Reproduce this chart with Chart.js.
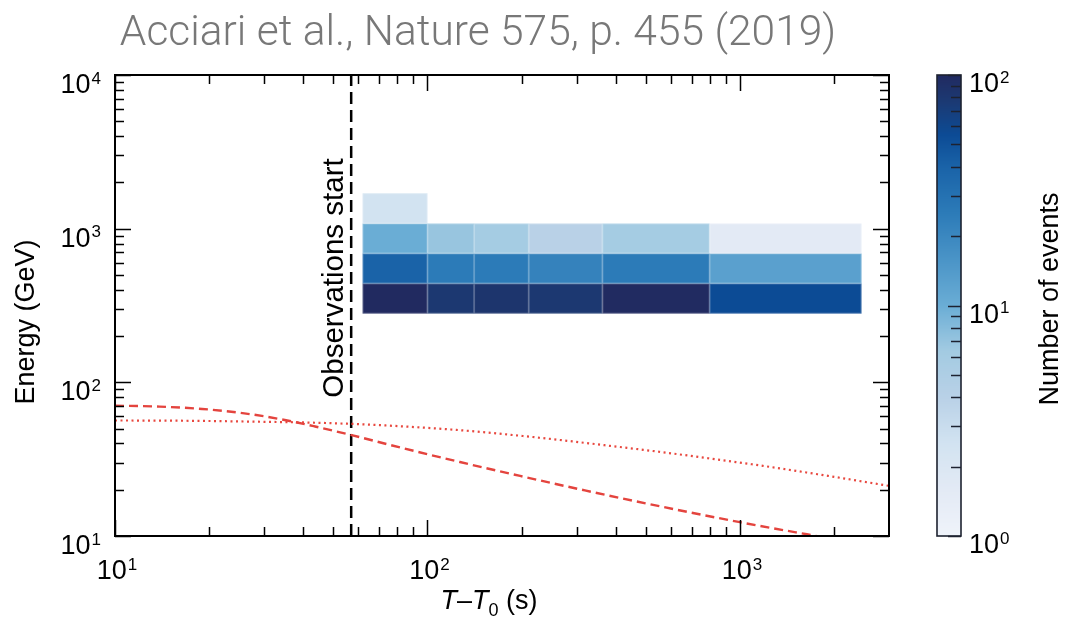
<!DOCTYPE html>
<html>
<head>
<meta charset="utf-8">
<script src="https://cdn.jsdelivr.net/npm/chart.js@4/dist/chart.umd.min.js"></script>
<style>
  html, body { margin: 0; padding: 0; background: #ffffff; }
  #wrap { position: relative; width: 1066px; height: 625px; }
  canvas { position: absolute; left: 0; top: 0; }
</style>
</head>
<body>
<div id="wrap"><canvas id="chart" width="1066" height="625"></canvas></div>
<script>
// Histogram bin edges: time since T0 (s) and energy (GeV)
const timeEdges = [62, 100, 141, 211, 363, 800, 2450];
const energyEdges = [280, 440, 690, 1080, 1700];
// Events per cell, one row per energy bin (lowest energy first); null = empty
const eventCounts = [
  [100, 79, 83, 79, 98, 55],
  [40, 25, 25, 22, 25, 12.6],
  [10, 6.9, 6, 4, 6, 1.6],
  [2.5, null, null, null, null, null]
];
// Model curves (time in s, energy in GeV)
const dashedTime = [10, 13.9, 19.0, 25.1, 33.7, 43.7, 56.5, 81.7, 127, 198, 319, 555, 1000, 1638, 1941];
const dashedEnergy = [70.5, 69.5, 67.1, 63.4, 57.7, 51.6, 45.6, 37.7, 30.3, 24.6, 19.8, 15.6, 12.3, 10.26, 9.66];
const dottedTime = [10, 13.9, 19.0, 29.1, 40.3, 56.5, 81.7, 124, 184, 264, 384, 559, 814, 1185, 1871, 3000];
const dottedEnergy = [56.45, 56.36, 56.1, 55.4, 54.8, 53.7, 51.8, 49.0, 45.6, 42.2, 38.6, 35.2, 31.8, 28.6, 24.8, 21.2];
// Start of the observation window (s)
const observationStart = 57;
// Axis ranges and labelled (major) ticks
const xRange = [10, 3000];
const yRange = [10, 10000];
const countRange = [1, 100];
const xMajorTicks = [10, 100, 1000];
const yMajorTicks = [10, 100, 1000, 10000];
const countMajorTicks = [1, 10, 100];

const TITLE = 'Acciari et al., Nature 575, p. 455 (2019)';
const FONT = '"Liberation Sans", Arial, Helvetica, sans-serif';

// Blues-like colour map used for both the cells and the colour bar
const cmapStops = [
  [0.00, '#eff3fa'], [0.10, '#e3eaf5'], [0.20, '#d2e3f1'], [0.30, '#b9d1e7'],
  [0.40, '#a3cbe2'], [0.50, '#6aadd5'], [0.60, '#4a94c7'], [0.70, '#2c7bb8'],
  [0.80, '#1a63a8'], [0.87, '#0c4b95'], [0.94, '#1b3a74'], [1.00, '#212a60']
];
function hexToRgb(h) { return [1, 3, 5].map(i => parseInt(h.slice(i, i + 2), 16)); }
function countColor(n) {
  const lo = Math.log10(countRange[0]), hi = Math.log10(countRange[1]);
  let f = (Math.log10(n) - lo) / (hi - lo);
  f = Math.max(0, Math.min(1, f));
  for (let i = 1; i < cmapStops.length; i++) {
    if (f <= cmapStops[i][0]) {
      const [f0, c0] = cmapStops[i - 1], [f1, c1] = cmapStops[i];
      const t = (f - f0) / (f1 - f0);
      const a = hexToRgb(c0), b = hexToRgb(c1);
      return 'rgb(' + a.map((v, k) => Math.round(v + (b[k] - v) * t)).join(',') + ')';
    }
  }
  return cmapStops[cmapStops.length - 1][1];
}

function minorTicks(min, max) {
  const out = [];
  for (let d = Math.floor(Math.log10(min)); d <= Math.ceil(Math.log10(max)); d++) {
    for (let m = 2; m <= 9; m++) {
      const v = m * Math.pow(10, d);
      if (v > min && v < max) out.push(v);
    }
  }
  return out;
}

// "10" with a raised exponent
function drawPower(ctx, value, x, y, align, baseSize, supSize) {
  const exp = String(Math.round(Math.log10(value)));
  ctx.font = baseSize + 'px ' + FONT;
  const wb = ctx.measureText('10').width;
  ctx.font = supSize + 'px ' + FONT;
  const ws = ctx.measureText(exp).width;
  const total = wb + 1 + ws;
  let x0 = x;
  if (align === 'right') x0 = x - total;
  else if (align === 'center') x0 = x - total / 2;
  ctx.textAlign = 'left';
  ctx.textBaseline = 'alphabetic';
  ctx.font = baseSize + 'px ' + FONT;
  ctx.fillText('10', x0, y);
  ctx.font = supSize + 'px ' + FONT;
  ctx.fillText(exp, x0 + wb + 1, y - baseSize * 0.34);
}

const heatmapPlugin = {
  id: 'heatmap',
  beforeDatasetsDraw(chart) {
    const { ctx, scales: { x, y } } = chart;
    ctx.save();
    eventCounts.forEach((row, i) => {
      row.forEach((n, j) => {
        if (n === null) return;
        const x0 = x.getPixelForValue(timeEdges[j]), x1 = x.getPixelForValue(timeEdges[j + 1]);
        const y0 = y.getPixelForValue(energyEdges[i + 1]), y1 = y.getPixelForValue(energyEdges[i]);
        ctx.fillStyle = countColor(n);
        ctx.fillRect(x0, y0, x1 - x0, y1 - y0);
        ctx.strokeStyle = 'rgba(255,255,255,0.22)';
        ctx.lineWidth = 1;
        ctx.strokeRect(x0 + 0.5, y0 + 0.5, x1 - x0 - 1, y1 - y0 - 1);
      });
    });
    ctx.restore();
  }
};

const framePlugin = {
  id: 'frame',
  afterDraw(chart) {
    const { ctx, chartArea: a, scales: { x, y, cb } } = chart;
    ctx.save();
    ctx.fillStyle = '#000';
    ctx.strokeStyle = '#000';

    // marker text beside the observation-start line
    const xl = x.getPixelForValue(observationStart);
    ctx.save();
    ctx.translate(xl - 8, 278);
    ctx.rotate(-Math.PI / 2);
    ctx.font = '29.5px ' + FONT;
    ctx.textAlign = 'center';
    ctx.textBaseline = 'alphabetic';
    ctx.fillText('Observations start', 0, 0);
    ctx.restore();

    // frame with inward ticks on all four sides
    ctx.lineWidth = 2;
    ctx.strokeRect(a.left, a.top, a.right - a.left, a.bottom - a.top);
    ctx.lineWidth = 1.5;
    const major = 16, minor = 9;
    const xt = xMajorTicks.map(v => [v, major]).concat(minorTicks(xRange[0], xRange[1]).map(v => [v, minor]));
    xt.forEach(([v, len]) => {
      const px = Math.round(x.getPixelForValue(v)) + 0.5;
      ctx.beginPath();
      ctx.moveTo(px, a.bottom); ctx.lineTo(px, a.bottom - len);
      ctx.moveTo(px, a.top); ctx.lineTo(px, a.top + len);
      ctx.stroke();
    });
    const yt = yMajorTicks.map(v => [v, major]).concat(minorTicks(yRange[0], yRange[1]).map(v => [v, minor]));
    yt.forEach(([v, len]) => {
      const py = Math.round(y.getPixelForValue(v)) + 0.5;
      ctx.beginPath();
      ctx.moveTo(a.left, py); ctx.lineTo(a.left + len, py);
      ctx.moveTo(a.right, py); ctx.lineTo(a.right - len, py);
      ctx.stroke();
    });

    // tick labels
    xMajorTicks.forEach(v => drawPower(ctx, v, x.getPixelForValue(v) + 2, a.bottom + 43, 'center', 27, 17));
    yMajorTicks.forEach(v => drawPower(ctx, v, a.left - 14, y.getPixelForValue(v) + 18, 'right', 27, 17));

    // axis titles
    ctx.save();
    ctx.translate(34, 322);
    ctx.rotate(-Math.PI / 2);
    ctx.font = '27px ' + FONT;
    ctx.textAlign = 'center';
    ctx.fillText('Energy (GeV)', 0, 0);
    ctx.restore();

    // T–T0 (s), with a lowered 0
    const parts = [
      ['T', 'italic 27px ' + FONT, 0],
      ['\u2013', '27px ' + FONT, 0],
      ['T', 'italic 27px ' + FONT, 0],
      ['0', '18px ' + FONT, 7],
      [' (s)', '27px ' + FONT, 0]
    ];
    let tw = 0;
    parts.forEach(p => { ctx.font = p[1]; tw += ctx.measureText(p[0]).width; });
    let tx = 489 - tw / 2;
    const ty = a.bottom + 73;
    ctx.textAlign = 'left';
    parts.forEach(p => {
      ctx.font = p[1];
      ctx.fillText(p[0], tx, ty + p[2]);
      tx += ctx.measureText(p[0]).width;
    });

    // colour bar
    const cbL = 937, cbR = 961;
    for (let py = Math.floor(cb.top); py < cb.bottom; py++) {
      ctx.fillStyle = countColor(cb.getValueForPixel(py + 0.5));
      ctx.fillRect(cbL, py, cbR - cbL, 1);
    }
    ctx.strokeStyle = '#1d2230';
    ctx.lineWidth = 1.6;
    ctx.strokeRect(cbL, cb.top, cbR - cbL, cb.bottom - cb.top);
    ctx.lineWidth = 1.5;
    const ct = countMajorTicks.map(v => [v, 13]).concat(minorTicks(countRange[0], countRange[1]).map(v => [v, 10]));
    ct.forEach(([v, len]) => {
      const py = Math.round(cb.getPixelForValue(v)) + 0.5;
      ctx.beginPath();
      ctx.moveTo(cbR, py); ctx.lineTo(cbR - len, py);
      ctx.stroke();
    });
    ctx.fillStyle = '#000';
    countMajorTicks.forEach(v => drawPower(ctx, v, cbR + 8, cb.getPixelForValue(v) + 17, 'left', 27, 17));

    ctx.save();
    ctx.translate(1058, 299);
    ctx.rotate(-Math.PI / 2);
    ctx.font = '27px ' + FONT;
    ctx.textAlign = 'center';
    ctx.fillText('Number of events', 0, 0);
    ctx.restore();

    // header
    ctx.fillStyle = '#787878';
    ctx.font = '300 42.5px Roboto';
    ctx.textAlign = 'center';
    ctx.fillText(TITLE, 478, 45);
    ctx.restore();
  }
};

const toPoints = (xs, ys) => xs.map((v, i) => ({ x: v, y: ys[i] }));

new Chart(document.getElementById('chart'), {
  type: 'scatter',
  data: {
    datasets: [
      {
        label: 'dashed model',
        data: toPoints(dashedTime, dashedEnergy),
        showLine: true, cubicInterpolationMode: 'monotone',
        borderColor: '#e4443e', borderWidth: 2.4, borderDash: [9, 5],
        pointRadius: 0
      },
      {
        label: 'dotted model',
        data: toPoints(dottedTime, dottedEnergy),
        showLine: true, cubicInterpolationMode: 'monotone',
        borderColor: '#e8483f', borderWidth: 2.2, borderDash: [2, 3.5],
        pointRadius: 0
      },
      {
        label: 'Observations start',
        data: [{ x: observationStart, y: yRange[0] }, { x: observationStart, y: yRange[1] }],
        showLine: true,
        borderColor: '#000', borderWidth: 2.5, borderDash: [12, 6],
        pointRadius: 0
      }
    ]
  },
  options: {
    responsive: false,
    animation: false,
    devicePixelRatio: 1,
    layout: { padding: { left: 115, right: 177, top: 75, bottom: 89 } },
    plugins: { legend: { display: false }, tooltip: { enabled: false } },
    scales: {
      x: { type: 'logarithmic', min: xRange[0], max: xRange[1], display: false },
      y: { type: 'logarithmic', min: yRange[0], max: yRange[1], display: false },
      cb: { type: 'logarithmic', axis: 'y', min: countRange[0], max: countRange[1], display: false }
    }
  },
  plugins: [heatmapPlugin, framePlugin]
});
</script>
</body>
</html>
